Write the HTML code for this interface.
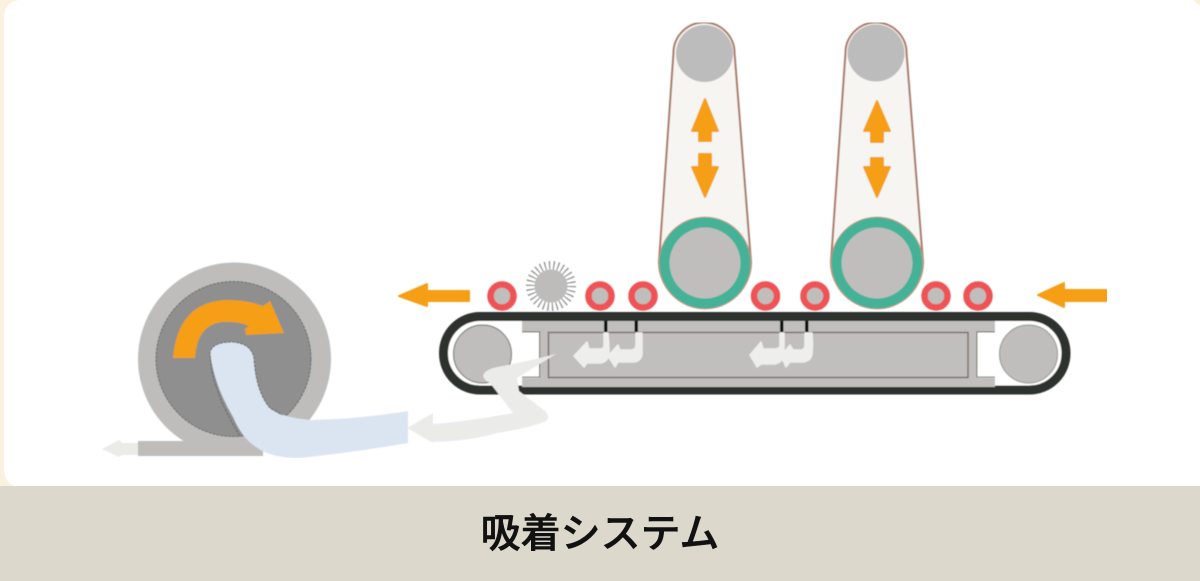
<!DOCTYPE html>
<html lang="ja"><head><meta charset="utf-8"><title>吸着システム</title>
<style>
html,body{margin:0;padding:0;background:#fff}
#w{position:relative;width:1200px;height:581px;overflow:hidden;background:#fbf1df}
svg{position:absolute;left:0;top:0}
#f{position:absolute;left:0;top:486px;width:1200px;height:95px;background:#dcd8cc}
#t{position:absolute;left:0;top:502px;width:1200px;text-align:center;font:500 40px/64px "Liberation Sans","Noto Sans CJK JP",sans-serif;color:#111;-webkit-text-stroke:0.5px #111}
</style></head><body>
<div id="w">
<svg width="1200" height="581" viewBox="0 0 1200 581" xmlns="http://www.w3.org/2000/svg">
<path d="M4,16 Q5,2 19,0 H1192 Q1196,2 1200,6 V486 H14 Q5,482 4,470 Z" fill="#fff"/>
<g filter="url(#b)">
<defs><filter id="b" x="0" y="0" width="100%" height="100%"><feGaussianBlur stdDeviation="0.45"/></filter></defs>

<!-- upper belts -->
<path d="M673.500,53 A30.500,30.500 0 0 1 734.500,53 L751,262 A46,46 0 0 1 659,262 Z" fill="#f6f5f2" stroke="#a87a6a" stroke-width="2"/>
<path d="M845.500,53 A30.500,30.500 0 0 1 906.500,53 L923,262 A46,46 0 0 1 831,262 Z" fill="#f6f5f2" stroke="#a87a6a" stroke-width="2"/>
<circle cx="704.500" cy="53.500" r="28.500" fill="#bdbcbc"/>
<circle cx="876" cy="53" r="28.500" fill="#bdbcbc"/>

<!-- up/down arrows -->
<g fill="#f59e15" stroke="#f59e15" stroke-width="2" stroke-linejoin="round">
<path d="M705,99 L718,131 H711 V141 H699 V131 H692 Z"/>
<path d="M699,154 H711 V167 H718 L705,197 L692,167 H699 Z"/>
<path d="M877,101 L890,131 H883 V142 H871 V131 H864 Z"/>
<path d="M871,158 H883 V167 H890 L877,197 L864,167 H871 Z"/>
<path d="M399,296 L427,284 V291 H469 V301 H427 V306 Z"/>
<path d="M1038,295 L1064,283 V290 H1107 V301 H1064 V307 Z"/>
</g>

<!-- big rollers -->
<circle cx="705" cy="263" r="46" fill="#44b297" stroke="#d9907e" stroke-width="0.8"/>
<circle cx="705" cy="263" r="35.500" fill="#bfbebc"/>
<circle cx="877" cy="263" r="46" fill="#44b297" stroke="#d9907e" stroke-width="0.8"/>
<circle cx="877" cy="263" r="35.500" fill="#bfbebc"/>

<!-- small rollers -->
<g fill="#bfbebc" stroke="#ee5254" stroke-width="6.500">
<circle cx="502" cy="296" r="11.500"/>
<circle cx="600" cy="296" r="11.500"/>
<circle cx="643" cy="296" r="11.500"/>
<circle cx="765.500" cy="296" r="11.500"/>
<circle cx="815" cy="296" r="11.500"/>
<circle cx="936" cy="296" r="11.500"/>
<circle cx="978" cy="296" r="11.500"/>
</g>

<!-- brush -->
<circle cx="551" cy="286" r="20.500" fill="none" stroke="#8e8e8e" stroke-width="9" stroke-dasharray="1.200 3.093"/>
<circle cx="551" cy="286" r="16.500" fill="#bdbcbb"/>

<!-- conveyor -->
<rect x="443.500" y="316.500" width="622.500" height="73.500" rx="36.500" ry="36.500" fill="#fff" stroke="#2e312f" stroke-width="9"/>
<circle cx="482.500" cy="354" r="29" fill="#bfbebc" stroke="#86807c" stroke-width="1.200"/>
<circle cx="1028.500" cy="354" r="29" fill="#bfbebc" stroke="#a09c99" stroke-width="1.200"/>
<rect x="522" y="321" width="473" height="11" fill="#c0bfbd"/>
<rect x="522" y="378" width="473" height="9" fill="#c0bfbd"/>
<rect x="539" y="331" width="438" height="48" fill="#c0bfbd"/>
<rect x="548.500" y="332.500" width="419.500" height="45" fill="#c0bfbd" stroke="#7f716a" stroke-width="1.500"/>
<path d="M522,332 H539.500 V377 H522 M995,332 H977 V377 H995" fill="none" stroke="#7f716a" stroke-width="1.200"/>
<rect x="522" y="332.500" width="17" height="44" fill="#fff"/>
<rect x="977.500" y="332.500" width="17.500" height="44" fill="#fff"/>
<rect x="604" y="321" width="3.500" height="11" fill="#111"/>
<rect x="634.500" y="321" width="3.500" height="11" fill="#111"/>
<rect x="780" y="321" width="3.500" height="11" fill="#111"/>
<rect x="805" y="321" width="3.500" height="11" fill="#111"/>

<!-- inner flow arrows -->
<g fill="#eeeeec" stroke="#eeeeec" stroke-width="1.500" stroke-linejoin="round">
<path d="M604,333 H608 Q609,345 609,354 Q608,362 600,363 H587 L584,367 L574,356 L587,342 L589,349 H600 Q604,349 604,345 Z"/>
<path d="M636,333 H642 V354 Q641,361 634,362 H618 L615,367 L608,356 L618,345 L620,350 H632 Q636,349 636,345 Z"/>
<path d="M780,333 H784 V354 Q783,362 775,364 H761 L757,367 L750,355 L761,342 L763,349 H775 Q780,349 780,345 Z"/>
<path d="M805,333 H812 Q813,345 812,354 Q811,361 803,362 H790 L786,367 L781,356 L790,345 L793,350 H802 Q805,349 805,345 Z"/>
</g>

<!-- exhaust flow -->
<path d="M556,354 Q525,362 497,367 Q484,370 483,376 Q484,380 490,383 L513,413 Q470,421 433,424 V413 L407,428 L433,443 V442 Q470,441 497,433 Q530,428 546,421 Q551,417 545,411 L519,391 L517,378 Z" fill="#ebebe9"/>

<!-- pump -->
<circle cx="234.500" cy="359" r="96.500" fill="#bebdbb"/>
<rect x="138" y="441" width="125" height="15" fill="#bebdbb"/>
<circle cx="233.500" cy="359" r="77.500" fill="#8f8f8f" stroke="#6b6b6b" stroke-width="1" stroke-dasharray="3 1"/>
<path d="M102,449 L119,440 L122,443 H138 V455 H122 L119,457 Z" fill="#ebebe9"/>
<path d="M173,358 Q178,302 226,300 Q248,300 263,306 L270,301 L284,333 L246,335 L245,329 L249,326 Q238,321 222,322 Q197,325 195,358 Z" fill="#f59e15"/>
<path d="M210,352 Q213,342 232,342 Q251,343 254,358 Q256,392 270,408 Q280,417 310,420 Q360,419 408,411 V443 Q350,453 300,458 Q270,458 256,447 Q242,438 233,417 Q214,385 210,352 Z" fill="#dbe5f1" stroke="none"/>
<path d="M240,436 Q224,410 218,392 Q210,370 210,352 Q213,342 232,342 Q251,343 254,358 Q256,392 270,408 L282,415" fill="none" stroke="#6b6b6b" stroke-width="1.100" stroke-dasharray="3 1"/>
</g>
</svg>
<div id="f"></div>
<div id="t">吸着システム</div>
</div>
</body></html>
